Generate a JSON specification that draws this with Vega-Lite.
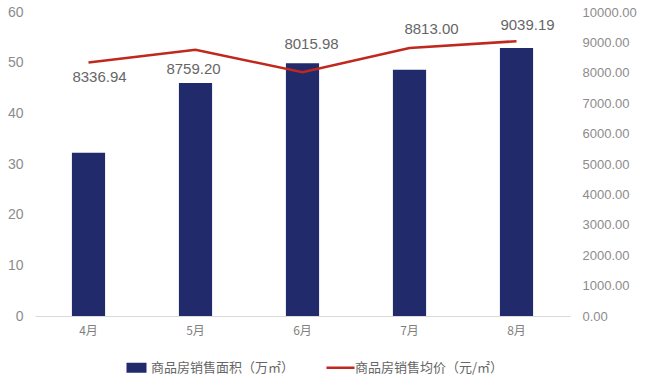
{
  "$schema": "https://vega.github.io/schema/vega-lite/v6.json",
  "width": 535,
  "height": 304,
  "autosize": "none",
  "padding": {"left": 35, "top": 12, "right": 80, "bottom": 65},
  "background": "white",
  "config": {
    "view": {"stroke": null},
    "font": "Liberation Sans",
    "axis": {"labelColor": "#8c8c8c", "labelFontSize": 13, "grid": false, "ticks": false, "labelFont": "Liberation Sans"}
  },
  "data": {
    "values": [
      {"month": "4月", "area": 32.2, "price": 8336.94},
      {"month": "5月", "area": 46.0, "price": 8759.20},
      {"month": "6月", "area": 49.9, "price": 8015.98},
      {"month": "7月", "area": 48.6, "price": 8813.00},
      {"month": "8月", "area": 52.9, "price": 9039.19}
    ]
  },
  "encoding": {
    "x": {
      "field": "month", "type": "nominal", "sort": null,
      "scale": {"paddingInner": 0.69, "paddingOuter": 0.345},
      "axis": {"title": null, "labelAngle": 0, "domainColor": "#d9d9d9", "labelPadding": 9, "labelFont": "Noto Sans CJK SC", "labelFontSize": 12, "labelColor": "#7f7f7f"}
    }
  },
  "layer": [
    {
      "mark": {"type": "bar", "color": "#212a6a"},
      "encoding": {
        "y": {"field": "area", "type": "quantitative", "scale": {"domain": [0, 60]},
          "axis": {"title": null, "values": [0, 10, 20, 30, 40, 50, 60], "domain": false, "labelPadding": 12, "labelFontSize": 14}},
        "color": {"datum": "商品房销售面积（万㎡）", "type": "nominal",
          "scale": {"domain": ["商品房销售面积（万㎡）", "商品房销售均价（元/㎡）"], "range": ["#212a6a", "#c0281e"]},
          "legend": {
            "title": null, "orient": "none", "direction": "horizontal", "legendX": 95, "legendY": 349,
            "labelFont": "Noto Sans CJK SC", "labelFontSize": 13, "labelColor": "#666666",
            "symbolSize": 400, "columnPadding": 26, "labelOffset": 8,
            "encode": {
              "symbols": {"update": {
                "shape": {"signal": "datum.label === '商品房销售面积（万㎡）' ? 'M-1,-0.5H1V0.5H-1Z' : 'M-1.4,0H1.4'"},
                "fill": {"signal": "datum.label === '商品房销售面积（万㎡）' ? '#212a6a' : 'transparent'"},
                "stroke": {"signal": "datum.label === '商品房销售面积（万㎡）' ? '#212a6a' : '#c0281e'"},
                "strokeWidth": {"signal": "datum.label === '商品房销售面积（万㎡）' ? 0 : 2.5"}
              }}
            }
          }
        }
      }
    },
    {
      "encoding": {
        "y": {"field": "price", "type": "quantitative", "scale": {"domain": [0, 10000]},
          "axis": {"title": null, "orient": "right", "values": [0, 1000, 2000, 3000, 4000, 5000, 6000, 7000, 8000, 9000, 10000], "format": ".2f", "domain": false, "labelPadding": 12}}
      },
      "layer": [
        {
          "mark": {"type": "line", "color": "#c0281e", "strokeWidth": 2.5},
          "encoding": {"color": {"datum": "商品房销售均价（元/㎡）", "type": "nominal"}}
        },
        {
          "transform": [{"filter": "datum.month === '4月'"}],
          "mark": {"type": "text", "dx": 11, "dy": 14, "fontSize": 15, "color": "#666666"},
          "encoding": {"text": {"field": "price", "type": "quantitative", "format": ".2f"}}
        },
        {
          "transform": [{"filter": "datum.month === '5月'"}],
          "mark": {"type": "text", "dx": -2, "dy": 19, "fontSize": 15, "color": "#666666"},
          "encoding": {"text": {"field": "price", "type": "quantitative", "format": ".2f"}}
        },
        {
          "transform": [{"filter": "datum.month === '6月'"}],
          "mark": {"type": "text", "dx": 9, "dy": -28, "fontSize": 15, "color": "#666666"},
          "encoding": {"text": {"field": "price", "type": "quantitative", "format": ".2f"}}
        },
        {
          "transform": [{"filter": "datum.month === '7月'"}],
          "mark": {"type": "text", "dx": 22, "dy": -19, "fontSize": 15, "color": "#666666"},
          "encoding": {"text": {"field": "price", "type": "quantitative", "format": ".2f"}}
        },
        {
          "transform": [{"filter": "datum.month === '8月'"}],
          "mark": {"type": "text", "dx": 11, "dy": -16, "fontSize": 15, "color": "#666666"},
          "encoding": {"text": {"field": "price", "type": "quantitative", "format": ".2f"}}
        }
      ]
    }
  ],
  "resolve": {"scale": {"y": "independent"}}
}
